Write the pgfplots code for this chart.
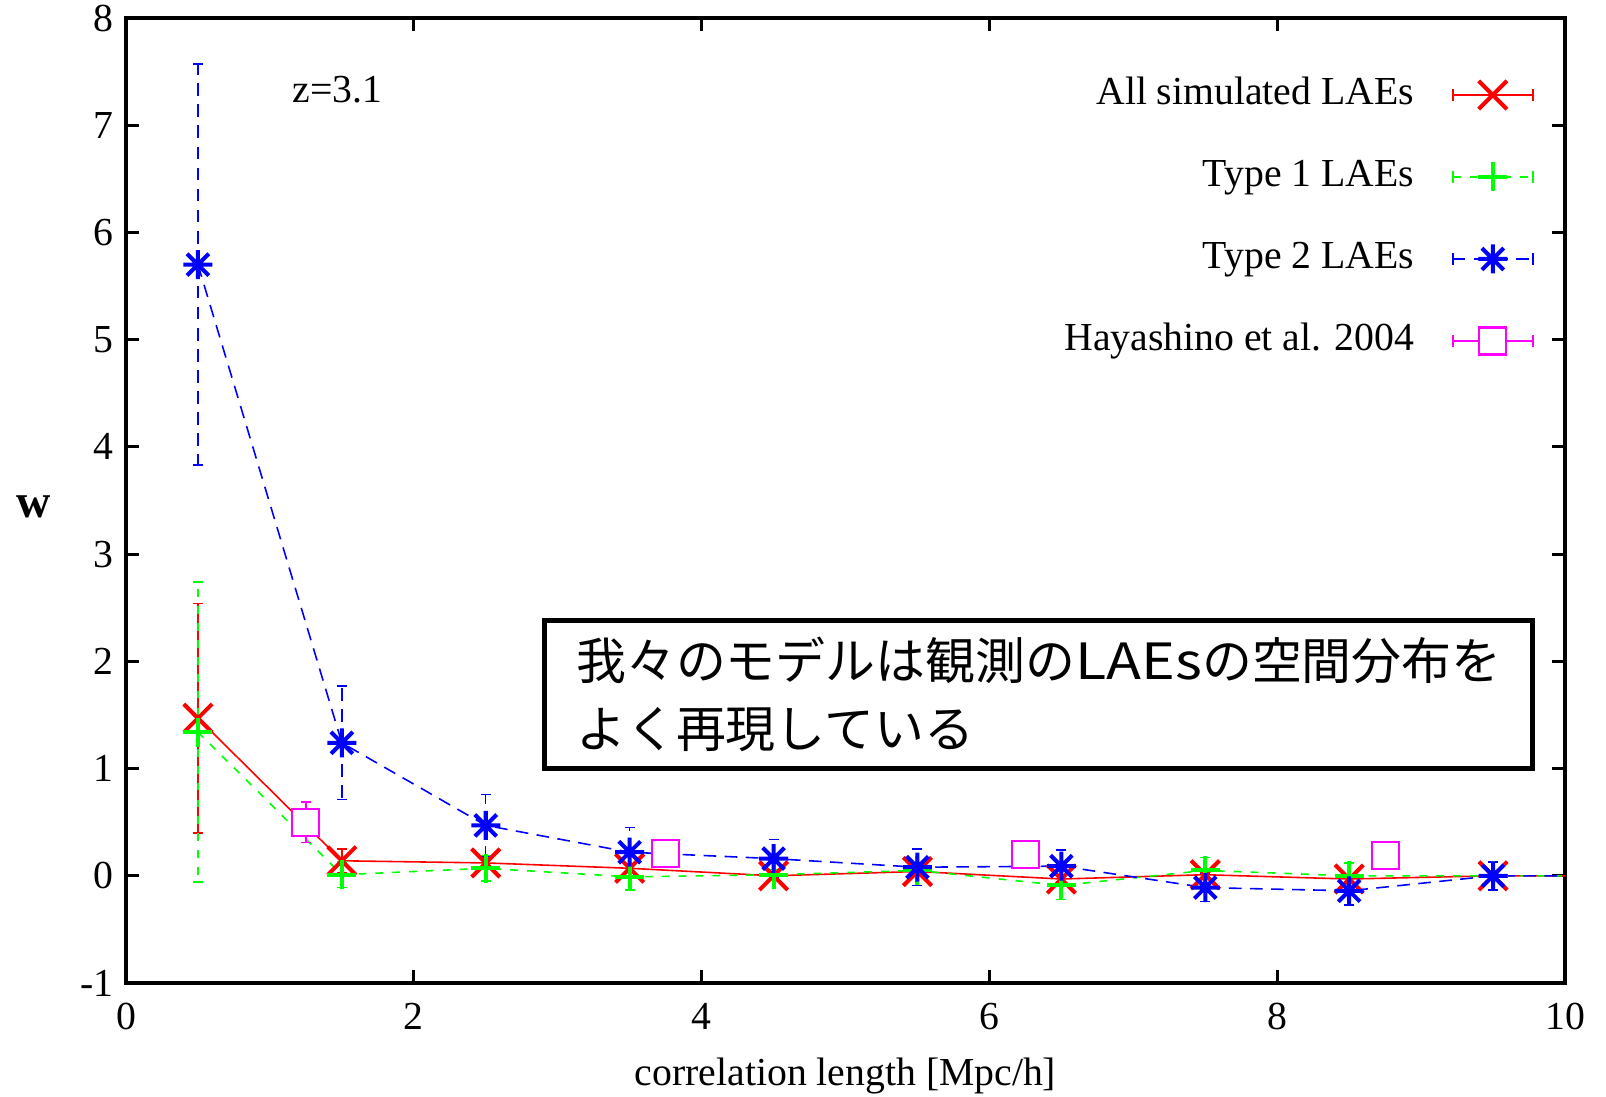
\documentclass[border=0pt]{standalone}
\usepackage{fontspec}
\setmainfont{Liberation Serif}
\newfontfamily\cjk{Noto Sans CJK JP}
\newfontfamily\cjkwide[FakeStretch=1.15]{Noto Sans CJK JP}
\usepackage{pgfplots}
\usepackage{pgfplotstable}
\pgfplotsset{compat=1.18}

\definecolor{gpred}{RGB}{255,0,0}
\definecolor{gpgreen}{RGB}{0,255,0}
\definecolor{gpblue}{RGB}{0,0,255}
\definecolor{gpmag}{RGB}{255,0,255}

% gnuplot style star: + and x together
\pgfdeclareplotmark{gpstar}{%
  \pgfpathmoveto{\pgfqpoint{-\pgfplotmarksize}{0pt}}\pgfpathlineto{\pgfqpoint{\pgfplotmarksize}{0pt}}%
  \pgfpathmoveto{\pgfqpoint{0pt}{-\pgfplotmarksize}}\pgfpathlineto{\pgfqpoint{0pt}{\pgfplotmarksize}}%
  \pgfpathmoveto{\pgfqpoint{-.75\pgfplotmarksize}{-.75\pgfplotmarksize}}\pgfpathlineto{\pgfqpoint{.75\pgfplotmarksize}{.75\pgfplotmarksize}}%
  \pgfpathmoveto{\pgfqpoint{-.75\pgfplotmarksize}{.75\pgfplotmarksize}}\pgfpathlineto{\pgfqpoint{.75\pgfplotmarksize}{-.75\pgfplotmarksize}}%
  \pgfusepathqstroke}

% x  w  error
\pgfplotstableread{
x    y     e
0.5  1.47  1.07
1.5  0.14  0.11
2.5  0.12  0.05
3.5  0.07  0.04
4.5  0.00  0.03
5.5  0.04  0.03
6.5  -0.03 0.03
7.5  0.01  0.03
8.5  -0.03 0.03
9.5  0.00  0.02
10.5 0.00  0.00
}\allLAE
\pgfplotstableread{
x    y     e
0.5  1.34  1.40
1.5  0.01  0.12
2.5  0.07  0.12
3.5  -0.01 0.12
4.5  0.01  0.05
5.5  0.05  0.05
6.5  -0.09 0.13
7.5  0.05  0.12
8.5  0.00  0.12
9.5  0.00  0.03
10.5 0.00  0.00
}\typeone
\pgfplotstableread{
x    y     e
0.5  5.70  1.87
1.5  1.24  0.53
2.5  0.47  0.29
3.5  0.22  0.23
4.5  0.16  0.18
5.5  0.08  0.17
6.5  0.09  0.15
7.5  -0.11 0.13
8.5  -0.14 0.13
9.5  0.00  0.13
10.5 0.00  0.00
}\typetwo
\pgfplotstableread{
x    y     e
1.25 0.50  0.19
3.75 0.21  0.03
6.25 0.20  0.03
8.75 0.19  0.03
}\hayashino

\pgfplotsset{
  errleg/.style n args={3}{legend image code/.code={
    \draw[#1,#2,line width=0.45pt] (0cm,0cm) -- (0.8cm,0cm);
    \draw[#1,solid,line width=0.45pt] (0cm,-0.06cm) -- (0cm,0.06cm) (0.8cm,-0.06cm) -- (0.8cm,0.06cm);
    \draw[#1,solid,line width=1.15pt,#3] plot coordinates {(0.4cm,0cm)};
  }},
}

\begin{document}
\begin{tikzpicture}
\begin{axis}[
  scale only axis, width=14.39cm, height=9.65cm,
  xmin=0, xmax=10, ymin=-1, ymax=8,
  xtick={0,2,...,10}, ytick={-1,0,...,8},
  tick align=inside, major tick length=0.13cm,
  axis line style={line width=0.9pt},
  every tick/.style={black, line width=0.9pt},
  /pgf/number format/assume math mode=true,
  font=\fontsize{11.3}{13.5}\selectfont,
  yticklabel style={inner ysep=0pt},
  xticklabel style={yshift=-0.08cm},
  xlabel={correlation length [Mpc/h]},
  ylabel={\fontsize{13.5}{15}\selectfont\textbf{w}},
  every axis x label/.style={at={(axis description cs:0.5,-0.096)}, anchor=center, inner sep=0pt},
  every axis y label/.style={at={(axis description cs:-0.064,0.493)}, anchor=center, inner sep=0pt},
  legend plot pos=right,
  legend cell align=right,
  legend style={draw=none, fill=none, at={(axis description cs:0.986,0.949)}, anchor=north east,
    row sep=0.42cm, column sep=0.38cm, nodes={inner sep=0pt, text height=0.3cm, text depth=0.1cm}},
  error bars/y dir=both, error bars/y explicit,
  error bars/error mark options={rotate=90, mark size=0.05cm, line width=0.45pt, solid},
]
\coordinate (O) at (rel axis cs:0,0);

\addplot[gpred, line width=0.45pt, mark=x, mark size=0.2cm, mark options={line width=1.15pt},
  errleg={gpred}{solid}{mark=x, mark size=0.2cm}]
  table[x=x, y=y, y error=e] {\allLAE};
\addlegendentry{All simulated LAEs}

\addplot[gpgreen, line width=0.45pt, dash pattern=on 2.2pt off 2.6pt, mark=+, mark size=0.145cm,
  mark options={line width=1.15pt, solid},
  error bars/error bar style={dash pattern=on 2.2pt off 2.6pt},
  errleg={gpgreen}{dash pattern=on 2.2pt off 2.6pt}{mark=+, mark size=0.145cm}]
  table[x=x, y=y, y error=e] {\typeone};
\addlegendentry{Type 1 LAEs}

\addplot[gpblue, line width=0.45pt, dash pattern=on 3.6pt off 2.4pt, mark=gpstar, mark size=0.145cm,
  mark options={line width=1.15pt, solid},
  error bars/error bar style={dash pattern=on 3.6pt off 2.4pt},
  errleg={gpblue}{dash pattern=on 3.6pt off 2.4pt}{mark=gpstar, mark size=0.145cm}]
  table[x=x, y=y, y error=e] {\typetwo};
\addlegendentry{Type 2 LAEs}

\addplot[gpmag, only marks, line width=0.45pt, mark=square*, mark size=0.135cm,
  mark options={fill=white, line width=0.6pt},
  errleg={gpmag}{solid}{mark=square*, mark size=0.135cm, mark options={fill=white, line width=0.6pt}}]
  table[x=x, y=y, y error=e] {\hayashino};
\addlegendentry{Hayashino et al. 2004}

\node at (axis cs:1.47,7.33) {z=3.1};

\node[draw, line width=1.4pt, fill=white, minimum width=9.88cm, minimum height=1.48cm,
  align=left, anchor=north west, inner sep=0pt, font=\cjk\fontsize{14.2}{19.2}\selectfont]
  at (axis cs:2.894,2.404)
  {我々のモデルは観測の{\cjkwide LAEs}の空間分布を\\よく再現している};
\end{axis}
\path (O) ++(-1.26cm,-1.13cm) rectangle ++(16.06cm,10.96cm);
\end{tikzpicture}
\end{document}
